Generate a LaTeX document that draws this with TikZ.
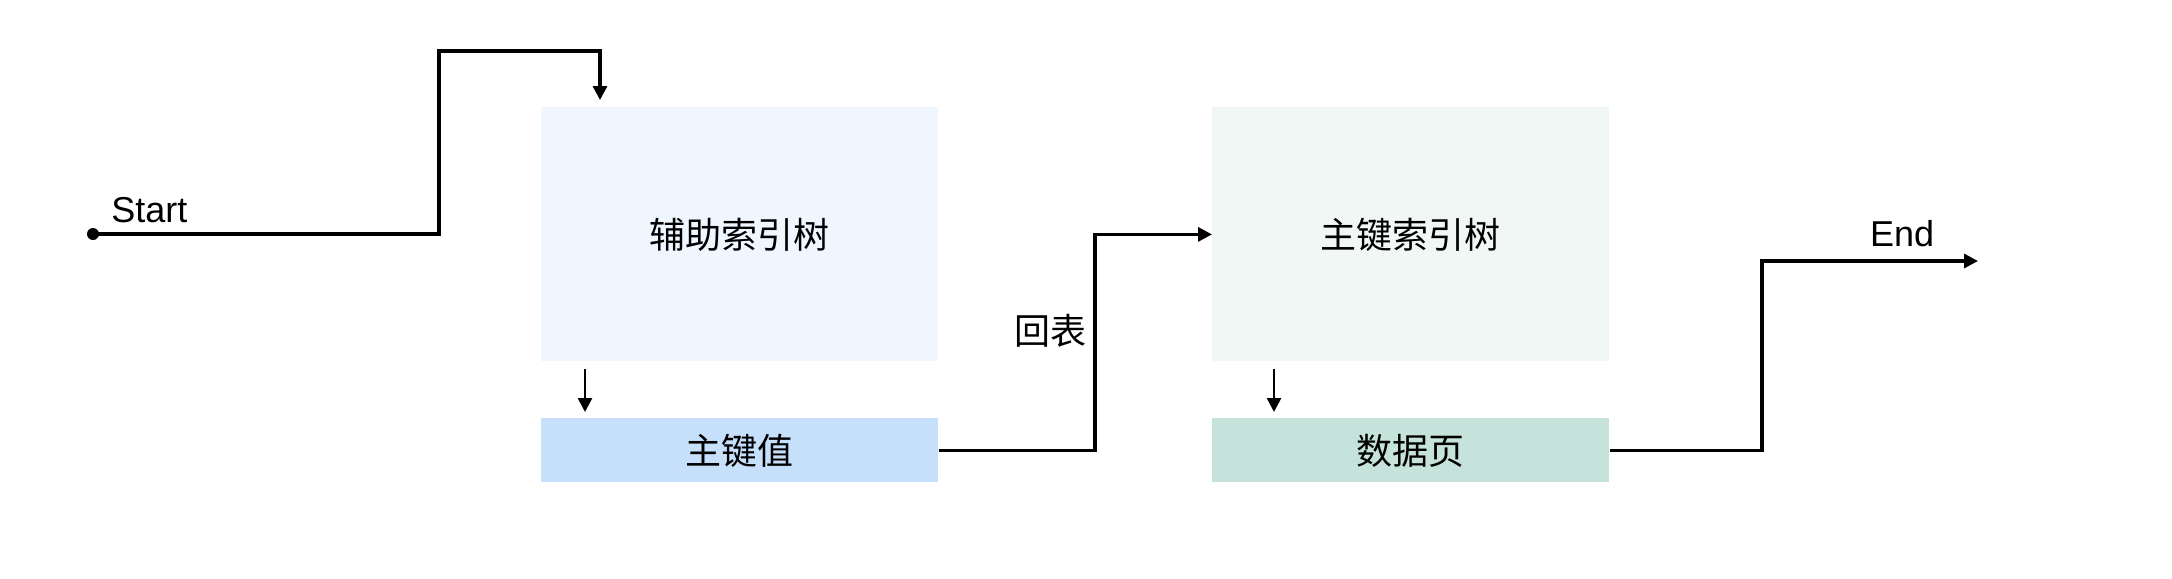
\documentclass[tikz,border=0pt]{standalone}
\usepackage{fontspec}
\setmainfont{Liberation Sans}
\newfontfamily\cjk{Noto Sans CJK SC}
\usetikzlibrary{arrows.meta,calc}
\definecolor{boxA}{HTML}{EFF6FE}
\definecolor{keyA}{HTML}{C6E0FC}
\definecolor{boxB}{HTML}{F1F7F4}
\definecolor{keyB}{HTML}{C5E3DA}
\tikzset{
  bigbox/.style={anchor=north west, minimum width=198.5pt, minimum height=127pt, inner sep=0pt, font=\cjk\fontsize{18}{22}\selectfont},
  keybox/.style={anchor=north west, minimum width=198.5pt, minimum height=32pt, inner sep=0pt, font=\cjk\fontsize{18}{22}\selectfont},
  conn/.style={line width=1.6pt, -{Triangle[length=7pt,width=7pt]}},
  smallarrow/.style={line width=1.3pt, -{Triangle[length=7pt,width=7pt]}},
  lbl/.style={inner sep=0pt, font=\fontsize{18}{22}\selectfont},
  cjklbl/.style={inner sep=0pt, font=\cjk\fontsize{18}{22}\selectfont}
}
\begin{document}
\begin{tikzpicture}[x=0.5pt,y=-0.5pt]
\useasboundingbox (0,0) rectangle (2172,578);
% boxes
\node[bigbox, fill=boxA] (b1) at (541,107) {辅助索引树};
\node[keybox, fill=keyA] (k1) at (541,418) {主键值};
\node[bigbox, fill=boxB] (b2) at (1212,107) {主键索引树};
\node[keybox, fill=keyB] (d1) at (1212,418) {数据页};
% start
\coordinate (s) at (93,234);
\fill (s) circle (3pt);
\node[lbl, anchor=base west] (startlbl) at (111,222) {Start};
\coordinate (t1) at (600,100);
\draw[conn] (s) -- (439,234) |- (t1 |- 0,51) -- (t1);
% small arrows
\draw[smallarrow] ($(b1.south west)+(44,7)$) -- ($(k1.north west)+(44,-6)$);
\draw[smallarrow] ($(b2.south west)+(62,7)$) -- ($(d1.north west)+(62,-6)$);
% back to table
\coordinate (c1) at ($(b2.west)+(-117,0)$);
\draw[conn] (k1.east) -| (c1) -- (b2.west);
\node[cjklbl] (huibiao) at (1050,331) {回表};
% end
\coordinate (e) at (1978,261);
\coordinate (c2) at (1762,261);
\draw[conn] (d1.east) -| (c2) -- (e);
\node[lbl] (endlbl) at (1902,234) {End};
\end{tikzpicture}
\end{document}
